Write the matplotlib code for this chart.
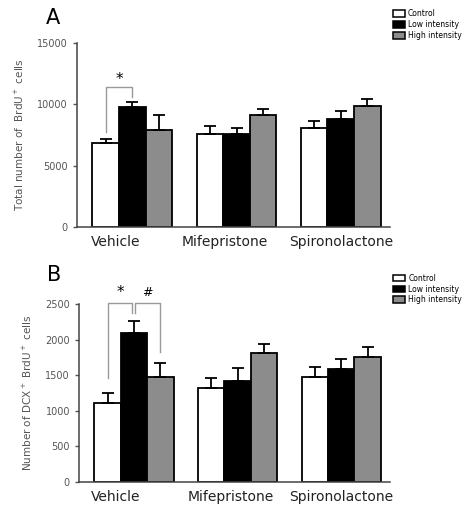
import numpy as np
import matplotlib
matplotlib.use("Agg")
import matplotlib.pyplot as plt
from matplotlib.patches import Patch

# Data
groups = ["Vehicle", "Mifepristone", "Spironolactone"]
series = ["Control", "Low intensity", "High intensity"]
colors = ["white", "black", "#8c8c8c"]

brdu_mean = [[6850, 7560, 8100],    # control
             [9760, 7560, 8810],    # low intensity
             [7950, 9130, 9890]]    # high intensity
brdu_err = [[300, 680, 550],
            [460, 540, 650],
            [1150, 490, 520]]

dcx_mean = [[1110, 1315, 1474],
            [2095, 1418, 1587],
            [1474, 1815, 1756]]
dcx_err = [[145, 140, 136],
           [168, 178, 136],
           [205, 119, 141]]

plt.rcParams['font.family'] = ['DejaVu Sans']
grey = "#555555"

fig = plt.figure(figsize=(4.62, 5.18), dpi=100)
axA = fig.add_axes([0.1667, 0.5618, 0.677, 0.355])
axB = fig.add_axes([0.171, 0.070, 0.673, 0.3425])

x = np.arange(len(groups))
width = 0.255
offsets = [-width, 0, width]


def draw_panel(ax, means, errs, ymax, step, ylabel, label_shift, legend_y):
    for i in range(len(series)):
        ax.bar(x + offsets[i], means[i], width, color=colors[i],
               edgecolor="black", linewidth=1.3, zorder=2)
        ax.errorbar(x + offsets[i], means[i],
                    yerr=[np.zeros(len(groups)), errs[i]],
                    fmt="none", ecolor="black", elinewidth=1.3,
                    capsize=4, capthick=1.3, zorder=3)
    ax.set_xlim(-0.53, 2.47)
    ax.set_ylim(0, ymax)
    ax.set_yticks(np.arange(0, ymax + 1, step))
    ax.set_xticks(x + np.array(label_shift))
    ax.set_xticklabels(groups, fontsize=10, color="#222222")
    ax.tick_params(axis="x", length=0, pad=6)
    ax.tick_params(axis="y", labelsize=7, colors=grey, length=3, width=1,
                   direction="out")
    for sp in ["top", "right"]:
        ax.spines[sp].set_visible(False)
    for sp in ["left", "bottom"]:
        ax.spines[sp].set_color("#444444")
        ax.spines[sp].set_linewidth(1.1)
    ax.set_ylabel(ylabel, fontsize=7.5, color=grey, labelpad=8)
    handles = [Patch(facecolor=c, edgecolor="black", linewidth=1.1) for c in colors]
    ax.legend(handles, series, loc="upper left", frameon=False, fontsize=5.5,
              handlelength=1.6, handleheight=1.0, handletextpad=0.4,
              labelspacing=0.25, borderaxespad=0,
              bbox_to_anchor=(1.0, legend_y))


draw_panel(axA, brdu_mean, brdu_err, 15000, 5000,
           "Total number of  BrdU$^+$ cells", [-0.16, -0.11, 0], 1.2)
draw_panel(axB, dcx_mean, dcx_err, 2500, 500,
           "Number of DCX$^+$ BrdU$^+$ cells", [-0.18, -0.07, 0], 1.19)

# significance brackets
br = "#999999"
c0, c1, c2 = offsets[0], offsets[1], offsets[2]
axA.plot([c0, c0, c1, c1], [7750, 11420, 11420, 10600], color=br, lw=1.0)
axA.text((c0 + c1) / 2, 12000, "*", ha="center", va="center", fontsize=11)

axB.plot([c0, c0, c1 - 0.02, c1 - 0.02], [1456, 2512, 2512, 2375],
         color=br, lw=1.0, clip_on=False)
axB.plot([c1 + 0.01, c1 + 0.01, c2, c2], [2375, 2512, 2512, 1831],
         color=br, lw=1.0, clip_on=False)
axB.text((c0 + c1) / 2, 2660, "*", ha="center", va="center", fontsize=11)
axB.text((c1 + c2) / 2, 2660, "#", ha="center", va="center", fontsize=9)

fig.text(0.115, 0.965, "A", fontsize=15, va="center", ha="center")
fig.text(0.118, 0.47, "B", fontsize=15, va="center", ha="center")

fig.savefig("out.png", dpi=100)
